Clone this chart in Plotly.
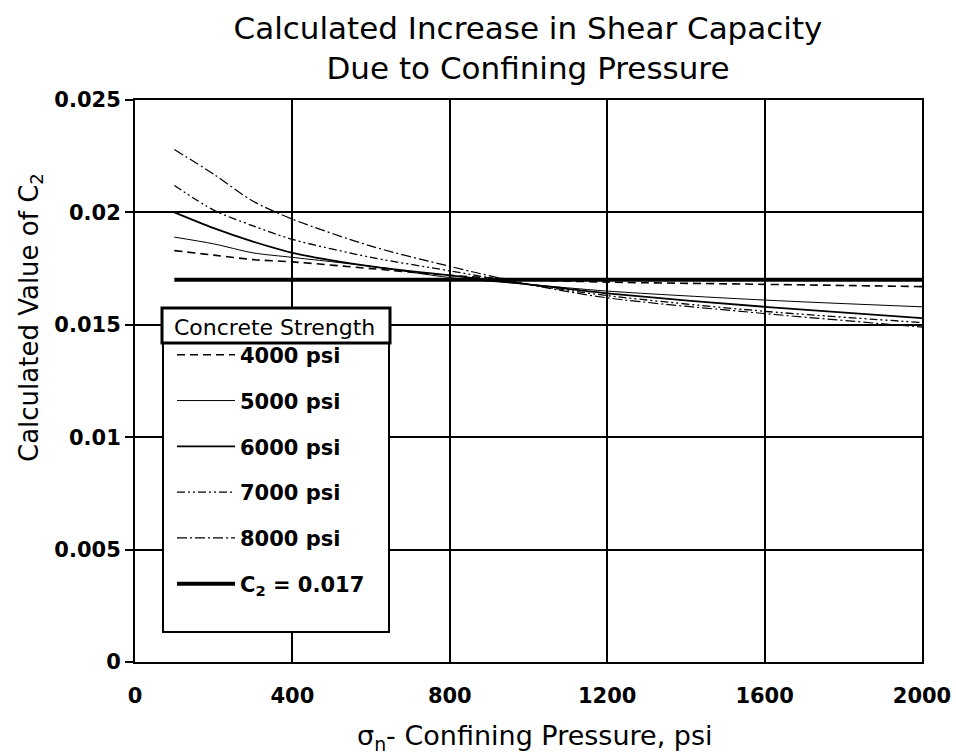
import plotly.graph_objects as go

# ---- data ----
pressure = [100, 200, 300, 400, 600, 800, 1000, 1200, 1600, 2000]
c2_4000 = [0.0183, 0.0181, 0.0179, 0.0178, 0.0175, 0.0172, 0.0170, 0.0169, 0.0168, 0.0167]
c2_5000 = [0.0189, 0.0186, 0.0182, 0.0180, 0.0176, 0.0171, 0.0168, 0.0165, 0.0161, 0.0158]
c2_6000 = [0.0200, 0.0193, 0.0187, 0.0182, 0.0176, 0.0172, 0.0168, 0.0164, 0.0158, 0.0153]
c2_7000 = [0.0212, 0.0201, 0.0194, 0.0188, 0.0180, 0.0174, 0.0168, 0.0163, 0.0156, 0.0151]
c2_8000 = [0.0228, 0.0217, 0.0205, 0.0197, 0.0185, 0.0176, 0.0168, 0.0162, 0.0155, 0.0149]
const_x = [100, 2000]
const_y = [0.017, 0.017]

series_names = ["4000 psi", "5000 psi", "6000 psi", "7000 psi", "8000 psi"]
series_vals = [c2_4000, c2_5000, c2_6000, c2_7000, c2_8000]
x_ticks = [0, 400, 800, 1200, 1600, 2000]
y_ticks = [0, 0.005, 0.01, 0.015, 0.02, 0.025]
y_tick_text = ["0", "0.005", "0.01", "0.015", "0.02", "0.025"]

styles = [
    dict(width=1.6, dash="8px,5px"),
    dict(width=1.0, dash="solid"),
    dict(width=1.8, dash="solid"),
    dict(width=1.3, dash="8px,3px,2px,3px,2px,3px"),
    dict(width=1.2, dash="10px,3px,2px,3px"),
]

FONT = "DejaVu Sans"
fig = go.Figure()
for i, (name, vals, st) in enumerate(zip(series_names, series_vals, styles)):
    fig.add_trace(go.Scatter(
        x=pressure, y=vals, mode="lines", name=name, legendgroup=f"g{i}",
        line=dict(color="black", shape="spline", smoothing=0.8, **st),
    ))
fig.add_trace(go.Scatter(
    x=const_x, y=const_y, mode="lines", name="C<sub>2</sub> = 0.017", legendgroup="g5",
    line=dict(color="black", width=4),
))

# screen-pixel -> paper helpers (plot area spans x 135..922, y 100..662)
def px2paper_x(px):
    return (px - 135) / 787.0

def px2paper_y(py):
    return (662 - py) / 562.0

# legend frame (title box + body box)
fig.add_shape(type="rect", xref="paper", yref="paper", layer="above",
              x0=px2paper_x(163), x1=px2paper_x(389), y0=px2paper_y(632), y1=px2paper_y(343),
              line=dict(color="black", width=2), fillcolor="white")
fig.add_shape(type="rect", xref="paper", yref="paper", layer="above",
              x0=px2paper_x(162), x1=px2paper_x(390), y0=px2paper_y(343), y1=px2paper_y(308),
              line=dict(color="black", width=3), fillcolor="white")

# axis titles as annotations (placed like the reference)
fig.add_annotation(text="Calculated Value of C<sub>2</sub>", xref="paper", yref="paper",
                   x=px2paper_x(30), y=px2paper_y(318), xanchor="center", yanchor="middle",
                   textangle=-90, showarrow=False,
                   font=dict(family=FONT, size=26, color="black"))
fig.add_annotation(text="σ<sub>n</sub>- Confining Pressure, psi", xref="paper", yref="paper",
                   x=px2paper_x(535), y=px2paper_y(737), xanchor="center", yanchor="middle",
                   showarrow=False,
                   font=dict(family=FONT, size=27, color="black"))

fig.update_layout(
    width=956, height=756,
    margin=dict(l=135, r=34, t=100, b=94, autoexpand=False),
    paper_bgcolor="white", plot_bgcolor="white",
    font=dict(family=FONT, color="black"),
    title=dict(text="Calculated Increase in Shear Capacity<br>Due to Confining Pressure",
               font=dict(family=FONT, size=31, color="black"),
               x=px2paper_x(528), xref="paper", xanchor="center",
               y=1 - 39 / 756, yref="container", yanchor="middle"),
    showlegend=True,
    legend=dict(
        x=px2paper_x(172), y=px2paper_y(306), xanchor="left", yanchor="top",
        bgcolor="rgba(0,0,0,0)", borderwidth=0,
        title=dict(text="Concrete Strength",
                   font=dict(family=FONT, size=22, color="black", weight="normal")),
        font=dict(family=FONT, size=21, color="black", weight="bold"),
        tracegroupgap=15.5, itemwidth=58,
    ),
    xaxis=dict(
        range=[0, 2000], tickvals=x_ticks, ticktext=[str(v) for v in x_ticks],
        showgrid=True, gridcolor="black", gridwidth=2,
        showline=True, linecolor="black", linewidth=2, mirror=True,
        zeroline=False, ticks="", ticklabelstandoff=14, ticklabeloverflow="allow",
        automargin=False,
        tickfont=dict(family=FONT, size=21, color="black", weight="bold"),
    ),
    yaxis=dict(
        range=[0, 0.025], tickvals=y_ticks, ticktext=y_tick_text,
        showgrid=True, gridcolor="black", gridwidth=2,
        showline=True, linecolor="black", linewidth=2, mirror=True,
        zeroline=False, ticks="outside", ticklen=8, tickwidth=2, tickcolor="black",
        automargin=False,
        tickfont=dict(family=FONT, size=21, color="black", weight="bold"),
    ),
)

# remove the default 8px page margin so the 956x756 figure fills the window exactly
fig.write_html("out.html", config={"displayModeBar": False},
               post_script="document.body.style.margin='0px';")
